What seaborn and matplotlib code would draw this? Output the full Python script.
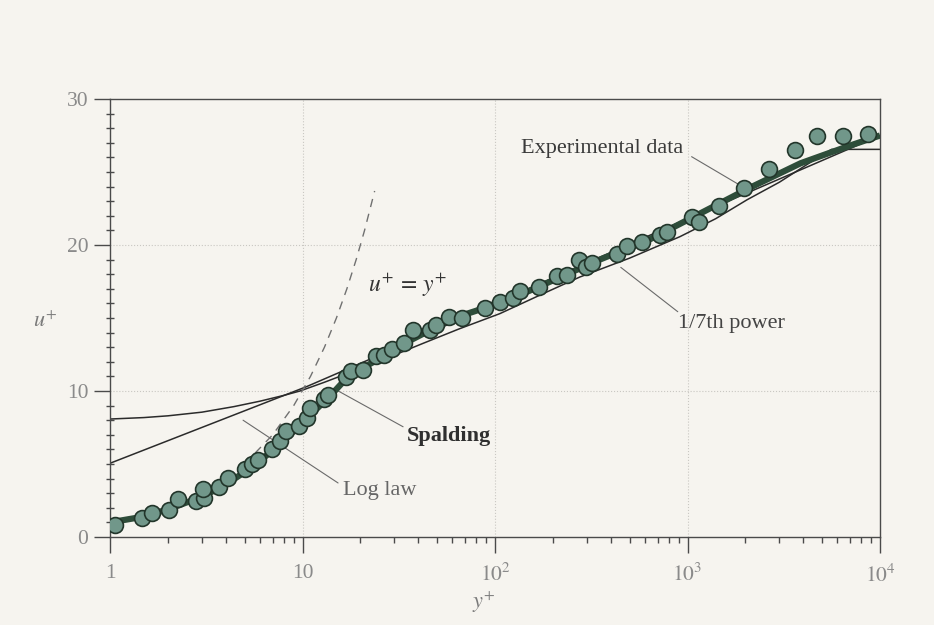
import numpy as np
import pandas as pd
import matplotlib
matplotlib.use("Agg")
import matplotlib.pyplot as plt
from matplotlib.ticker import MultipleLocator, LogLocator, NullFormatter
import seaborn as sns

# Measured turbulent wall-layer velocities (y+, u+)
exp_yplus = [1.06, 1.47, 1.66, 2.02, 2.26, 2.79, 3.09, 3.03, 3.70, 4.12,
             5.03, 5.44, 5.89, 6.97, 7.64, 8.18, 9.59, 10.5, 10.9, 12.9,
             13.5, 16.8, 17.8, 20.5, 24.1, 26.6, 29.3, 33.6, 37.3, 45.9,
             49.4, 57.9, 67.2, 88.8, 106, 124, 135, 170, 209, 236,
             273, 297, 319, 429, 483, 578, 720, 785, 1050, 1147,
             1459, 1967, 2660, 3615, 4690, 6450, 8710]
exp_uplus = [0.82, 1.32, 1.67, 1.82, 2.58, 2.47, 2.69, 3.29, 3.45, 4.04,
             4.63, 4.98, 5.27, 6.05, 6.58, 7.28, 7.62, 8.17, 8.86, 9.45,
             9.73, 10.94, 11.39, 11.44, 12.4, 12.5, 12.9, 13.3, 14.2, 14.2,
             14.5, 15.1, 15.0, 15.7, 16.1, 16.35, 16.85, 17.1, 17.9, 17.95,
             19.0, 18.5, 18.8, 19.4, 19.9, 20.2, 20.7, 20.9, 21.9, 21.55,
             22.7, 23.9, 25.2, 26.5, 27.5, 27.5, 27.6]

# Spalding's composite wall law
spalding_yplus = [1, 1.5, 2, 3, 4, 5, 6, 7, 8, 10, 12, 14, 17, 20, 25, 32,
                  45, 58, 80, 106, 150, 194, 350, 640, 1030, 2130, 3870,
                  6950, 10000]
spalding_uplus = [1.0, 1.4, 1.9, 2.75, 3.6, 4.45, 5.2, 5.95, 6.6, 7.85, 8.85,
                  9.7, 10.9, 11.5, 12.2, 13.1, 14.1, 14.9, 15.5, 16.1, 16.85,
                  17.5, 19.0, 20.4, 21.8, 23.95, 25.6, 26.8, 27.5]

# Logarithmic overlap law
loglaw_yplus = [1, 10.5, 30, 100, 1000, 10000]
loglaw_uplus = [5.05, 10.3, 12.9, 16.0, 21.8, 27.5]

# One-seventh power-law profile
power_yplus = [1, 1.5, 2, 3, 4.4, 6, 8, 9.7, 13, 19.1, 28, 42.4, 65, 106,
               170, 275, 500, 913, 1400, 2040, 3000, 4160, 5600, 10000]
power_uplus = [8.08, 8.18, 8.3, 8.55, 8.93, 9.3, 9.7, 10.0, 10.6, 11.44,
               12.3, 13.27, 14.25, 15.3, 16.55, 17.8, 19.1, 20.57, 21.8,
               23.1, 24.3, 25.5, 26.55, 26.55]

# Viscous sublayer u+ = y+
sublayer_yplus = [5, 7, 9, 11, 13, 15, 17, 19, 21, 23.7]
sublayer_uplus = [5, 7, 9, 11, 13, 15, 17, 19, 21, 23.7]

xtick_vals = [1, 10, 100, 1000, 10000]
xtick_labels = ["1", "10", r"$10^2$", r"$10^3$", r"$10^4$"]
ytick_vals = [0, 10, 20, 30]

sns.set_style("white")
plt.rcParams["font.family"] = ["Liberation Serif", "DejaVu Serif"]
plt.rcParams["mathtext.fontset"] = "stix"

paper = "#f6f4ef"
fig = plt.figure(figsize=(9.34, 6.25), dpi=100, facecolor=paper)
ax = fig.add_axes([0.1178, 0.1408, 0.8244, 0.7008], facecolor=paper)
ax.set_xscale("log")

exp_df = pd.DataFrame({"yplus": exp_yplus, "uplus": exp_uplus})
spal_df = pd.DataFrame({"yplus": spalding_yplus, "uplus": spalding_uplus})
log_df = pd.DataFrame({"yplus": loglaw_yplus, "uplus": loglaw_uplus})
pow_df = pd.DataFrame({"yplus": power_yplus, "uplus": power_uplus})
sub_df = pd.DataFrame({"yplus": sublayer_yplus, "uplus": sublayer_uplus})

thin = "#2b2b2b"
sns.lineplot(data=log_df, x="yplus", y="uplus", ax=ax, color=thin, lw=1.1,
             estimator=None, sort=False, zorder=2)
sns.lineplot(data=pow_df, x="yplus", y="uplus", ax=ax, color=thin, lw=1.1,
             estimator=None, sort=False, zorder=2)
sns.lineplot(data=sub_df, x="yplus", y="uplus", ax=ax, color="#707070", lw=1.0,
             estimator=None, sort=False, zorder=2, dashes=False,
             linestyle=(0, (6, 5)))
sns.lineplot(data=spal_df, x="yplus", y="uplus", ax=ax, color="#2e4d3a", lw=4.5,
             estimator=None, sort=False, zorder=3, solid_capstyle="butt")
sns.scatterplot(data=exp_df, x="yplus", y="uplus", ax=ax, s=130,
                color="#71978a", edgecolor="#22352a", linewidth=1.2, zorder=4)

ax.set_xlim(1, 1e4)
ax.set_ylim(0, 30)

# Grid: light dotted guides at the decades and every 10 units
for xv in [10, 100, 1000]:
    ax.axvline(xv, color="#c9c7c2", lw=0.8, ls=":", zorder=0)
for yv in [10, 20]:
    ax.axhline(yv, color="#c9c7c2", lw=0.8, ls=":", zorder=0)

# Ticks
ax.set_xticks(xtick_vals, labels=xtick_labels)
ax.xaxis.set_minor_locator(LogLocator(base=10, subs=np.arange(2, 10)))
ax.xaxis.set_minor_formatter(NullFormatter())
ax.set_yticks(ytick_vals)
ax.yaxis.set_minor_locator(MultipleLocator(1))
ax.tick_params(which="both", bottom=True, left=True, top=False, right=False)
ax.tick_params(axis="both", which="major", direction="out", length=11.5,
               width=1.0, color="#4a4a4a", labelsize=15.5, labelcolor="#8a8a8a")
ax.tick_params(axis="x", which="major", pad=8)
ax.tick_params(axis="y", which="major", pad=4)
ax.tick_params(axis="x", which="minor", direction="out", length=4, width=1.0,
               color="#4a4a4a")
ax.tick_params(axis="y", which="minor", direction="inout", length=6, width=1.0,
               color="#4a4a4a")

for side in ["left", "right", "top", "bottom"]:
    ax.spines[side].set_visible(True)
    ax.spines[side].set_color("#4a4a4a")
    ax.spines[side].set_linewidth(1.0)

ax.set_xlabel("")
ax.set_ylabel("")
fig.text(0.048, 0.485, r"$u^{+}$", fontsize=16, color="#7a7a7a",
         ha="center", va="center")
fig.text(0.518, 0.036, r"$y^{+}$", fontsize=16, color="#7a7a7a",
         ha="center", va="center")

# Callouts
lead = dict(color="#6a6a6a", lw=0.8, zorder=1)
ax.plot([1050, 1870], [26.05, 24.1], **lead)
ax.plot([450, 890], [18.47, 15.43], **lead)
ax.plot([15.0, 33.3], [10.07, 7.55], **lead)
ax.plot([4.91, 15.3], [8.0, 3.7], **lead)

ax.text(136, 26.3, "Experimental data", fontsize=16, color="#3a3a3a",
        ha="left", va="baseline")
ax.text(893, 14.3, "1/7th power", fontsize=16, color="#444444",
        ha="left", va="baseline")
ax.text(22.0, 16.8, r"$u^{+}\,=\,y^{+}$", fontsize=17, color="#333333",
        ha="left", va="baseline")
ax.text(34.8, 6.6, "Spalding", fontsize=16, fontweight="bold",
        color="#2f2f2f", ha="left", va="baseline")
ax.text(16.3, 2.88, "Log law", fontsize=16, color="#666666",
        ha="left", va="baseline")

fig.savefig("out.png", dpi=100, facecolor=paper)
